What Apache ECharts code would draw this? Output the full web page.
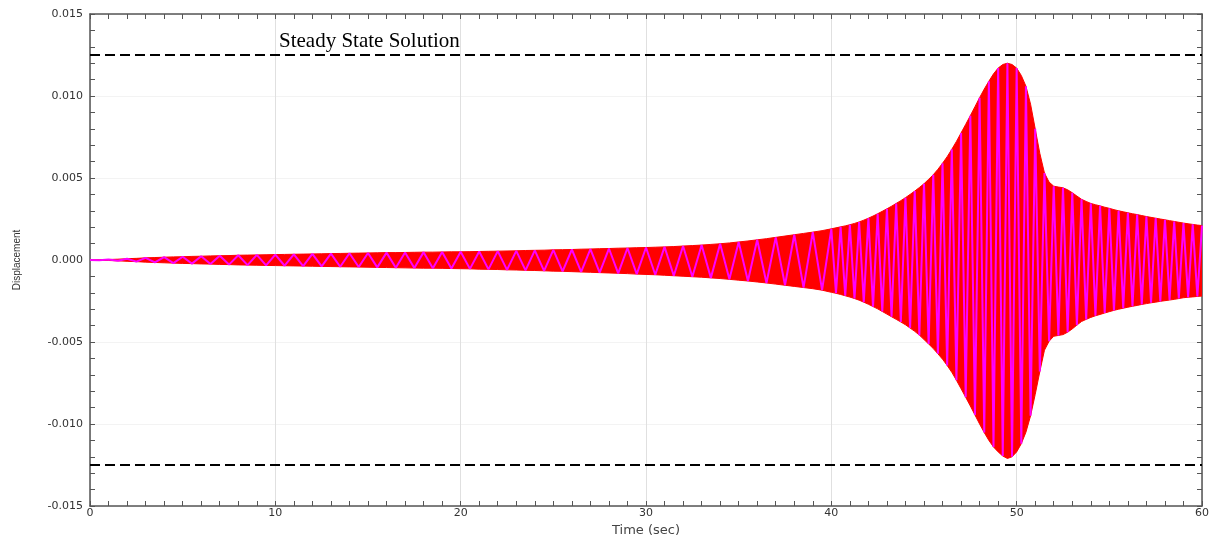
<!DOCTYPE html>
<html>
<head>
<meta charset="utf-8">
<script src="https://cdn.jsdelivr.net/npm/echarts@6/dist/echarts.min.js"></script>
<style>
  html, body { margin: 0; padding: 0; background: #fff; }
  #chart { width: 1212px; height: 537px; }
</style>
</head>
<body>
<div id="chart"></div>
<script>
// Envelope of the displacement response, units of 1e-3.
// 0 - 39.5 s sampled every 0.5 s, 40 - 60 s sampled every 0.25 s.
const earlyStep = 0.5;
const lateStart = 40;
const lateStep = 0.25;

const upperEarly = [
  0.00, 0.01, 0.03, 0.05, 0.08, 0.10, 0.13, 0.15, 0.17, 0.19,
  0.20, 0.22, 0.23, 0.25, 0.26, 0.27, 0.29, 0.30, 0.31, 0.32,
  0.33, 0.34, 0.35, 0.36, 0.37, 0.38, 0.39, 0.40, 0.41, 0.42,
  0.43, 0.44, 0.45, 0.45, 0.46, 0.47, 0.48, 0.48, 0.49, 0.50,
  0.50, 0.51, 0.52, 0.53, 0.54, 0.55, 0.56, 0.58, 0.59, 0.60,
  0.62, 0.63, 0.64, 0.66, 0.67, 0.69, 0.70, 0.72, 0.73, 0.75,
  0.76, 0.78, 0.80, 0.82, 0.85, 0.88, 0.91, 0.95, 0.99, 1.04,
  1.10, 1.16, 1.23, 1.30, 1.38, 1.46, 1.54, 1.62, 1.70, 1.79
];
const upperLate = [
  1.90, 1.96, 2.02, 2.08, 2.15, 2.23, 2.32, 2.43, 2.55, 2.68,
  2.82, 2.97, 3.12, 3.28, 3.45, 3.62, 3.80, 4.00, 4.20, 4.42,
  4.65, 4.92, 5.20, 5.53, 5.90, 6.30, 6.75, 7.23, 7.75, 8.27,
  8.80, 9.35, 9.90, 10.42, 10.90, 11.35, 11.70, 11.92, 12.00, 11.92,
  11.70, 11.25, 10.60, 9.50, 8.00, 6.50, 5.30, 4.75, 4.50, 4.45,
  4.40, 4.28, 4.10, 3.90, 3.70, 3.57, 3.45, 3.37, 3.30, 3.22,
  3.15, 3.07, 3.00, 2.94, 2.88, 2.82, 2.77, 2.71, 2.65, 2.60,
  2.55, 2.50, 2.45, 2.40, 2.35, 2.30, 2.25, 2.21, 2.17, 2.13,
  2.10
];

// Lower envelope magnitudes, same sampling
const lowerEarly = [
  0.00, 0.01, 0.03, 0.05, 0.08, 0.10, 0.13, 0.15, 0.17, 0.19,
  0.21, 0.22, 0.24, 0.25, 0.27, 0.28, 0.30, 0.31, 0.32, 0.33,
  0.34, 0.35, 0.36, 0.37, 0.38, 0.39, 0.40, 0.41, 0.42, 0.43,
  0.44, 0.45, 0.46, 0.47, 0.48, 0.49, 0.50, 0.50, 0.51, 0.52,
  0.53, 0.54, 0.56, 0.57, 0.58, 0.60, 0.61, 0.63, 0.64, 0.66,
  0.68, 0.69, 0.71, 0.73, 0.75, 0.77, 0.79, 0.81, 0.83, 0.86,
  0.88, 0.90, 0.93, 0.96, 0.99, 1.02, 1.05, 1.09, 1.13, 1.18,
  1.23, 1.28, 1.34, 1.40, 1.47, 1.54, 1.61, 1.68, 1.75, 1.84
];
const lowerLate = [
  1.97, 2.03, 2.10, 2.18, 2.26, 2.35, 2.45, 2.57, 2.70, 2.84,
  2.98, 3.14, 3.30, 3.46, 3.62, 3.78, 3.95, 4.15, 4.35, 4.58,
  4.85, 5.12, 5.40, 5.72, 6.05, 6.43, 6.85, 7.33, 7.85, 8.37,
  8.90, 9.45, 10.00, 10.52, 11.00, 11.40, 11.70, 11.95, 12.10, 12.00,
  11.70, 11.20, 10.50, 9.50, 8.20, 6.80, 5.50, 4.95, 4.65, 4.60,
  4.55, 4.40, 4.20, 3.97, 3.75, 3.62, 3.50, 3.40, 3.32, 3.23,
  3.15, 3.07, 3.00, 2.94, 2.88, 2.82, 2.77, 2.71, 2.66, 2.61,
  2.57, 2.52, 2.48, 2.44, 2.40, 2.35, 2.30, 2.27, 2.25, 2.22,
  2.20
];

// Steady-state response amplitude
const steadyAmp = 0.0125;
const steadyLabel = 'Steady State Solution';

// Axis ranges and tick spacing
const xRange = [0, 60, 10];
const yRange = [-0.015, 0.015, 0.005];

const scale = 1e-3;
const times = upperEarly.map((_, i) => i * earlyStep)
  .concat(upperLate.map((_, i) => lateStart + i * lateStep));
const upperEnv = upperEarly.concat(upperLate);
const lowerEnv = lowerEarly.concat(lowerLate);

const upperData = times.map((t, i) => [t, upperEnv[i] * scale]);
const lowerData = times.map((t, i) => [t, -lowerEnv[i] * scale]);
// Oscillation traced between the envelope readings, alternating crest and trough
const swing = times.map((t, i) => [t, i % 2 === 0 ? upperEnv[i] * scale : -lowerEnv[i] * scale]);

const axisColor = '#555';
const labelFont = { fontFamily: 'DejaVu Sans', fontSize: 11, color: '#333' };

const chart = echarts.init(document.getElementById('chart'), null, { renderer: 'canvas' });

const option = {
  animation: false,
  backgroundColor: '#fff',
  grid: { left: 90, right: 10, top: 14, bottom: 31, containLabel: false, outerBoundsMode: 'none' },
  xAxis: [
    {
      type: 'value', min: xRange[0], max: xRange[1], interval: xRange[2],
      name: 'Time (sec)', nameLocation: 'middle', nameGap: 15,
      nameTextStyle: { fontFamily: 'DejaVu Sans', fontSize: 13, color: '#444' },
      axisLine: { show: true, onZero: false, lineStyle: { color: axisColor, width: 1.5 } },
      axisTick: { show: true, inside: true, length: 5, lineStyle: { color: axisColor } },
      minorTick: { show: true, splitNumber: 10, length: 5, lineStyle: { color: axisColor } },
      axisLabel: { ...labelFont, margin: 2 },
      splitLine: { show: true, lineStyle: { color: '#e0e0e0', width: 1 } }
    },
    {
      type: 'value', position: 'top', min: xRange[0], max: xRange[1], interval: xRange[2],
      axisLine: { show: true, onZero: false, lineStyle: { color: axisColor, width: 1.5 } },
      axisTick: { show: true, inside: true, length: 5, lineStyle: { color: axisColor } },
      minorTick: { show: true, splitNumber: 10, length: 5, lineStyle: { color: axisColor } },
      axisLabel: { show: false }, splitLine: { show: false }
    }
  ],
  yAxis: [
    {
      type: 'value', min: yRange[0], max: yRange[1], interval: yRange[2],
      name: 'Displacement', nameLocation: 'middle', nameGap: 68, nameRotate: 90,
      nameTextStyle: { fontFamily: 'Liberation Sans', fontSize: 10, color: '#333' },
      axisLine: { show: true, onZero: false, lineStyle: { color: axisColor, width: 1.5 } },
      axisTick: { show: true, inside: true, length: 5, lineStyle: { color: axisColor } },
      minorTick: { show: true, splitNumber: 5, length: 5, lineStyle: { color: axisColor } },
      axisLabel: { ...labelFont, margin: 7, formatter: v => v.toFixed(3) },
      splitLine: { show: true, lineStyle: { color: '#f3f3f3', width: 1 } }
    },
    {
      type: 'value', position: 'right', min: yRange[0], max: yRange[1], interval: yRange[2],
      axisLine: { show: true, onZero: false, lineStyle: { color: axisColor, width: 1.5 } },
      axisTick: { show: true, inside: true, length: 5, lineStyle: { color: axisColor } },
      minorTick: { show: true, splitNumber: 5, length: 5, lineStyle: { color: axisColor } },
      axisLabel: { show: false }, splitLine: { show: false }
    }
  ],
  series: [
    {
      name: 'upper', type: 'line', data: upperData, symbol: 'none',
      lineStyle: { color: '#ff0000', width: 1 },
      areaStyle: { color: '#ff0000', opacity: 1 }, z: 2
    },
    {
      name: 'lower', type: 'line', data: lowerData, symbol: 'none',
      lineStyle: { color: '#ff0000', width: 1 },
      areaStyle: { color: '#ff0000', opacity: 1 }, z: 2
    },
    {
      name: 'swing', type: 'line', data: swing, symbol: 'none',
      lineStyle: { color: '#ff00ff', width: 2 }, z: 3
    },
    {
      name: 'steadyUpper', type: 'line', data: [[xRange[0], steadyAmp], [xRange[1], steadyAmp]],
      symbol: 'none', lineStyle: { color: '#000', width: 2, type: [10, 5] }, z: 5
    },
    {
      name: 'steadyLower', type: 'line', data: [[xRange[0], -steadyAmp], [xRange[1], -steadyAmp]],
      symbol: 'none', lineStyle: { color: '#000', width: 2, type: [10, 5] }, z: 5
    }
  ]
};

chart.setOption(option);

// Annotation placed at data coordinates above the upper steady-state line
const anchor = chart.convertToPixel({ xAxisIndex: 0, yAxisIndex: 0 }, [10.2, steadyAmp]);
chart.setOption({
  graphic: [{
    type: 'text', x: anchor[0], y: anchor[1] - 3, z: 10,
    style: {
      text: steadyLabel, fill: '#000',
      font: '21px "Liberation Serif", "Times New Roman", serif',
      textVerticalAlign: 'bottom', textAlign: 'left'
    }
  }]
});
</script>
</body>
</html>
